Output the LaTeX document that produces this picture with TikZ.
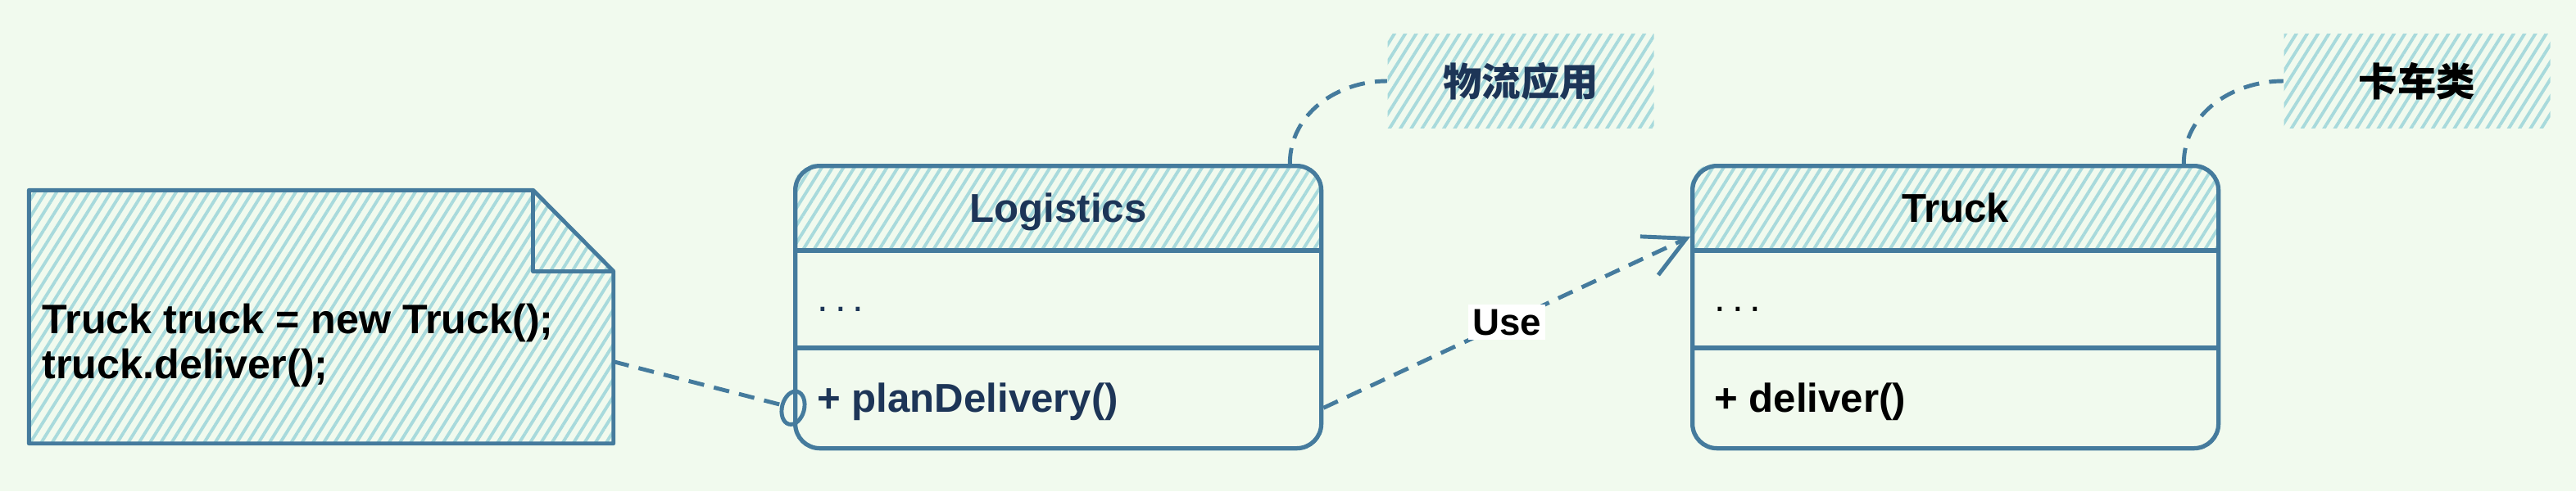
\documentclass[tikz,border=0pt]{standalone}
\usepackage{fontspec}
\setmainfont{Liberation Sans}
\newfontfamily\cjkfont{Noto Sans CJK SC}
\usepackage{xcolor}
\usepackage{tikz}
\usetikzlibrary{arrows.meta,patterns.meta,positioning,calc}
\definecolor{cPage}{HTML}{F1FAEE}
\definecolor{cLine}{HTML}{457B9D}
\definecolor{cHatch}{HTML}{A8DADC}
\definecolor{cInk}{HTML}{1D3557}
\tikzset{
  hatch/.style={pattern={Lines[angle=58,distance=3.2pt,line width=1.1pt]},
      pattern color=cHatch},
  classbox/.style={draw=cLine,line width=1.5pt,rounded corners=0.3cm,
      minimum width=6.42cm,minimum height=3.45cm,inner sep=0pt},
  classline/.style={draw=cLine,line width=1.5pt},
  classtitle/.style={font=\bfseries\fontsize{14}{16}\selectfont,inner sep=1pt,
      text height=10pt,text depth=3pt},
  classitem/.style={font=\bfseries\fontsize{14}{16}\selectfont,inner sep=1pt},
  memo/.style={minimum width=7.12cm,minimum height=3.08cm,inner sep=0pt},
  memoline/.style={draw=cLine,line width=1.4pt,line join=round},
  codetext/.style={font=\bfseries\fontsize{14.3}{15.6}\selectfont,align=left,
      inner sep=1pt},
  tag/.style={hatch,minimum width=3.25cm,minimum height=1.15cm,inner sep=0pt,
      font=\cjkfont\bfseries\fontsize{13.5}{15}\selectfont},
  dashlink/.style={draw=cLine,line width=1.4pt,dash pattern=on 5.5pt off 3.5pt},
  uselink/.style={dashlink,-{Straight Barb[length=0.5cm,width=0.52cm]}},
  notelink/.style={dashlink,-{Circle[open,length=0.32cm,width=0.46cm]},
      shorten >=-0.16cm},
  uselab/.style={fill=white,inner sep=1.5pt,midway,
      font=\bfseries\fontsize{13}{15}\selectfont},
}
% x, y (top left), name, ink, title, operation
\newcommand{\umlclass}[6]{%
  \begin{scope}
    \clip[rounded corners=0.3cm] (#1,#2) rectangle ++(6.42,-3.45);
    \path[hatch] (#1,#2) rectangle ++(6.42,-1.06);
  \end{scope}
  \node[classbox,anchor=north west] (#3) at (#1,#2) {};
  \node[classtitle,text=#4] (#3-title) at ($(#3.north)+(0,-0.59)$) {#5};
  \node[classitem,text=#4,anchor=west,font=\fontsize{14}{16}\selectfont]
    (#3-attr) at ($(#3.north west)+(0.25,-1.78)$) {.\,.\,.};
  \node[classitem,text=#4,anchor=west] (#3-op) at ($(#3.north west)+(0.25,-2.91)$) {#6};
  \draw[classline] ($(#3.north west)+(0,-1.06)$) -- ($(#3.north east)+(0,-1.06)$);
  \draw[classline] ($(#3.north west)+(0,-2.25)$) -- ($(#3.north east)+(0,-2.25)$);}

\begin{document}
\begin{tikzpicture}[x=1cm,y=1cm]
  \useasboundingbox (0,0) rectangle (31.44,-6);
  \fill[cPage] (0,0) rectangle (31.44,-6);

  % client code note
  \node[memo] (memo) at (3.92,-3.87) {};
  \path[hatch] (memo.north west) -- ($(memo.north east)+(-0.98,0)$)
    -- ($(memo.north east)+(0,-0.99)$) -- (memo.south east) -- (memo.south west) -- cycle;
  \draw[memoline] (memo.north west) -- ($(memo.north east)+(-0.98,0)$)
    -- ($(memo.north east)+(0,-0.99)$) -- (memo.south east) -- (memo.south west) -- cycle;
  \draw[memoline] ($(memo.north east)+(-0.98,0)$) -- ($(memo.north east)+(-0.98,-0.99)$)
    -- ($(memo.north east)+(0,-0.99)$);
  \node[codetext,anchor=west] (code) at ($(memo.west)+(0.12,-0.35)$)
    {Truck truck = new Truck();\\truck.deliver();};

  \umlclass{9.68}{-2.00}{logi}{cInk}{Logistics}{+ planDelivery()}
  \umlclass{20.63}{-2.00}{truck}{black}{Truck}{+ deliver()}

  \node[tag,text=cInk] (logitag) at (18.56,-0.99) {物流应用};
  \node[tag,text=black] (trucktag) at (29.50,-0.99) {卡车类};

  \draw[dashlink] ($(logi.north east)+(-0.41,0)$) to[out=90,in=180] (logitag.west);
  \draw[dashlink] ($(truck.north east)+(-0.45,0)$) to[out=90,in=180] (trucktag.west);
  \draw[notelink] ($(memo.south east)+(0,1.0)$) -- ($(logi.south west)+(0,0.52)$);
  \draw[uselink] ($(logi.south east)+(0,0.52)$) -- ($(truck.north west)+(0,-0.89)$)
    node[uselab] (use) {Use};
\end{tikzpicture}
\end{document}
